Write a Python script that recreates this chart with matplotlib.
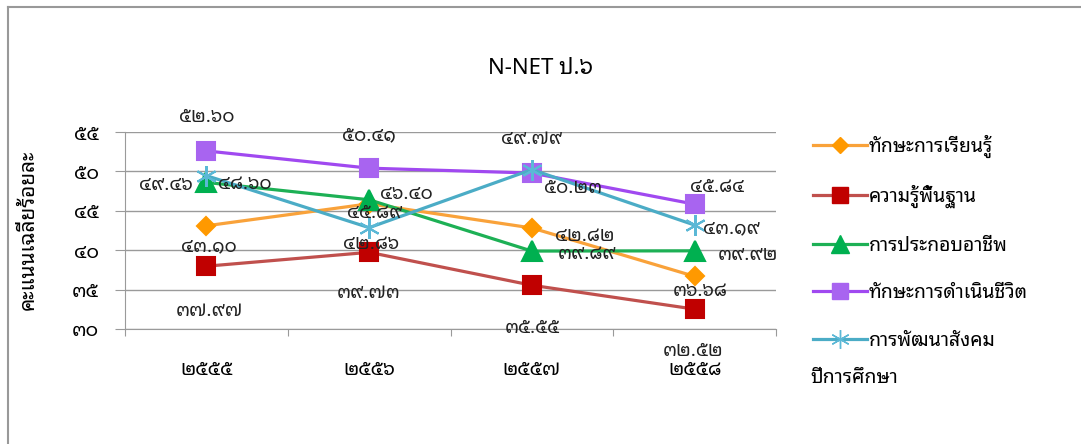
import matplotlib
matplotlib.use("Agg")
import matplotlib.pyplot as plt
from matplotlib.lines import Line2D
from matplotlib.ticker import FixedLocator, NullFormatter

plt.rcParams['font.family'] = ['Noto Sans Thai Looped', 'Noto Sans Thai', 'DejaVu Sans']

# ข้อมูล
years = ['๒๕๕๕', '๒๕๕๖', '๒๕๕๗', '๒๕๕๘']
series_names = ['ทักษะการเรียนรู้', 'ความรู้พื้นฐาน', 'การประกอบอาชีพ',
                'ทักษะการดำเนินชีวิต', 'การพัฒนาสังคม']
learning = [43.10, 45.89, 42.82, 36.68]
basic = [37.97, 39.73, 35.55, 32.52]
career = [48.60, 46.40, 39.89, 39.92]
living = [52.60, 50.41, 49.79, 45.84]
social = [49.46, 42.86, 50.23, 43.19]
yticks = [30, 35, 40, 45, 50, 55]

thai_digits = str.maketrans('0123456789', '๐๑๒๓๔๕๖๗๘๙')

def thai(v, fmt):
    return (fmt % v).translate(thai_digits)

W, H = 1081, 444
fig = plt.figure(figsize=(W / 100, H / 100), dpi=100)
ax = fig.add_axes([125 / W, 1 - 329 / H, (776 - 125) / W, (329 - 132) / H])

xs = [0, 1, 2, 3]
# สี, marker, ขนาด, สีmarker
styles = [
    ('#F9A23A', 'D', 9, '#FF9900'),
    ('#C0504D', 's', 13, '#C00000'),
    ('#1DB055', '^', 14, '#00B050'),
    ('#A049F0', 's', 13, '#A864F0'),
    ('#4BACC6', (6, 2, 0), 15, '#5BB8D6'),
]
data = [learning, basic, career, living, social]

# ตำแหน่งป้ายข้อมูล (pixel offset)
offsets = [
    [(3, -20), (5, -9), (53, -8), (5, -15)],
    [(3, -45), (0, -41), (0, -43), (-2, -42)],
    [(38, -1), (37, 6), (55, -3), (53, -4)],
    [(0, 34), (0, 33), (0, 34), (22, 17)],
    [(-40, -9), (2, -16), (41, -18), (37, -3)],
]

for vals, (lc, mk, ms, mc), offs in zip(data, styles, offsets):
    ax.plot(xs, vals, color=lc, lw=2.3, marker=mk, markersize=ms,
            markerfacecolor=mc, markeredgecolor=mc, markeredgewidth=1.5, zorder=3)
    for x, v, (dx, dy) in zip(xs, vals, offs):
        ax.annotate(thai(v, '%.2f'), (x, v), xytext=(dx, dy), textcoords='offset pixels',
                    ha='center', va='center', fontsize=13.5, fontweight='semibold',
                    color='#222222', zorder=4)

ax.set_xlim(-0.5, 3.5)
ax.set_ylim(30, 55)
ax.set_yticks(yticks)
ax.set_yticklabels([thai(v, '%d') for v in yticks], fontsize=14, fontweight='semibold')
ax.yaxis.grid(True, color='#9a9a9a', lw=1)
ax.set_axisbelow(True)
ax.xaxis.set_major_locator(FixedLocator([-0.5, 0.5, 1.5, 2.5, 3.5]))
ax.xaxis.set_major_formatter(NullFormatter())
ax.xaxis.set_minor_locator(FixedLocator(xs))
ax.set_xticklabels(years, minor=True, fontsize=14, fontweight='semibold')
ax.tick_params(axis='x', which='major', length=5, color='#9a9a9a')
ax.tick_params(axis='x', which='minor', length=0, pad=22)
ax.tick_params(axis='y', length=7, color='#9a9a9a', pad=12)
for s in ['top', 'right']:
    ax.spines[s].set_visible(False)
for s in ['left', 'bottom']:
    ax.spines[s].set_color('#9a9a9a')

fig.text(540 / W, 1 - 68 / H, 'N-NET ป.๖', ha='center', va='center', fontsize=16)
fig.text(28 / W, 1 - 230 / H, 'คะแนนเฉลี่ยร้อยละ', ha='center', va='center',
         rotation=90, fontsize=15)
fig.text(810 / W, 1 - 378 / H, 'ปีการศึกษา', ha='left', va='center', fontsize=14)

handles = [Line2D([], [], color=lc, lw=2.3, marker=mk, markersize=ms * 0.9,
                  markerfacecolor=mc, markeredgecolor=mc)
           for (lc, mk, ms, mc) in styles]
fig.legend(handles, series_names, loc='upper left',
           bbox_to_anchor=(795 / W, 1 - 117 / H), frameon=False, fontsize=14,
           handlelength=2.8, handletextpad=0.1, labelspacing=1.41)

# กรอบ
fig.add_artist(Line2D([8 / W, 8 / W], [0, 1 - 7 / H], color='#999999', lw=1.5))
fig.add_artist(Line2D([8 / W, 1], [1 - 7 / H, 1 - 7 / H], color='#999999', lw=1.5))

fig.savefig('out.png', dpi=100)
